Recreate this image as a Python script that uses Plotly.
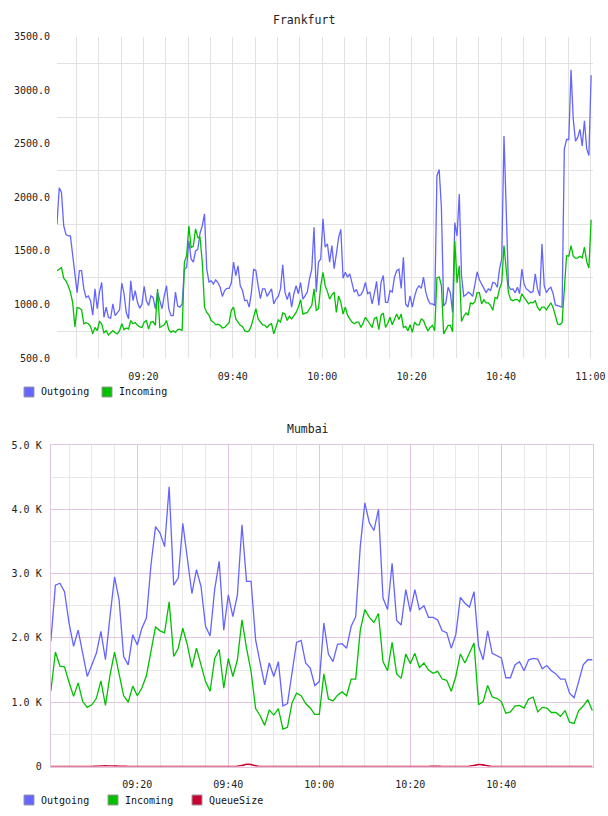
import pandas as pd
import plotly.graph_objects as go

# ---------------- Frankfurt (30 s samples from 09:00:40) ----------------
fra_start = "2024-01-01 09:00:40"
fra_outgoing = [
    1750, 2090, 2045, 1735, 1655, 1640, 1640, 1455, 1330, 1110,
    1315, 1315, 1145, 1065, 1080, 1035, 900, 1145, 960, 1115,
    1205, 880, 975, 880, 870, 1005, 895, 925, 950, 1200,
    1100, 925, 865, 1220, 1035, 1130, 1020, 965, 1000, 1170,
    1035, 990, 1080, 1065, 960, 1115, 1035, 960, 1080, 1175,
    960, 895, 895, 1115, 985, 975, 1005, 1330, 1345, 1595,
    1425, 1395, 1500, 1515, 1665, 1735, 1845, 1330, 1210, 1220,
    1190, 1230, 1205, 1160, 1075, 1130, 1150, 1150, 1200, 1395,
    1270, 1360, 1175, 1130, 1035, 1040, 975, 1115, 1330, 1315,
    1175, 1055, 1145, 1145, 1075, 1115, 1145, 1005, 1050, 1075,
    1145, 1370, 1115, 1045, 1115, 975, 1100, 1175, 1100, 1205,
    1050, 1080, 1115, 1240, 1330, 1720, 1115, 1395, 1425, 1800,
    1535, 1565, 1395, 1550, 1335, 1470, 1625, 1700, 1245, 1300,
    1255, 1285, 1200, 1115, 1140, 1080, 1090, 1130, 1205, 1100,
    1115, 1005, 1100, 1215, 990, 1205, 1270, 1020, 1020, 1130,
    1115, 1255, 1315, 1330, 1150, 1440, 1005, 975, 1080, 975,
    1075, 1145, 1175, 1150, 1255, 1115, 1045, 1005, 1005, 990,
    2200, 2260, 1905, 985, 1015, 1160, 1110, 925, 1765, 1640,
    2030, 1270, 1075, 1090, 1115, 1100, 1075, 1175, 1305, 1230,
    1190, 1140, 1110, 1145, 1130, 1205, 1200, 1160, 1330, 1425,
    2573, 1890, 1175, 1140, 1145, 1110, 1160, 1100, 1330, 1190,
    1145, 1130, 1110, 1120, 1285, 1145, 1080, 1565, 1175, 1110,
    1145, 1160, 1100, 995, 990, 985, 975, 2450, 2540, 2540,
    3190, 2730, 2525, 2560, 2635, 2480, 2715, 2455, 2390, 3140,
]
fra_incoming = [
    1315, 1330, 1345, 1245, 1220, 1175, 1115, 1020, 790, 970,
    965, 950, 820, 830, 820, 795, 725, 785, 755, 840,
    820, 735, 755, 715, 735, 755, 735, 725, 755, 820,
    765, 780, 770, 850, 820, 830, 805, 790, 785, 835,
    850, 770, 835, 840, 805, 1145, 785, 795, 810, 850,
    765, 740, 755, 740, 765, 770, 755, 1395, 1455, 1735,
    1530, 1545, 1705, 1625, 1625, 1395, 975, 925, 900, 850,
    835, 810, 815, 805, 780, 785, 810, 830, 945, 975,
    865, 840, 805, 795, 755, 745, 755, 805, 895, 960,
    865, 835, 810, 805, 785, 810, 820, 725, 785, 855,
    835, 920, 910, 850, 890, 865, 895, 925, 975, 1045,
    910, 920, 925, 960, 990, 1145, 945, 960, 1175, 1300,
    1175, 1120, 1050, 1090, 1115, 925, 1080, 1020, 910, 975,
    900, 865, 835, 820, 835, 835, 785, 830, 880, 850,
    810, 785, 870, 880, 765, 900, 920, 785, 825, 880,
    810, 860, 910, 860, 910, 785, 795, 755, 810, 740,
    835, 810, 810, 865, 850, 795, 755, 785, 805, 755,
    1250, 1255, 1175, 725, 765, 805, 805, 745, 1595, 1200,
    1360, 840, 890, 920, 900, 1015, 1005, 1025, 1110, 1110,
    1005, 1045, 1015, 1015, 990, 945, 1065, 1055, 1145, 1205,
    1550, 1330, 1110, 1045, 1035, 1045, 1045, 1025, 1100, 1065,
    1040, 1005, 1020, 1015, 1035, 975, 945, 975, 975, 950,
    985, 1015, 970, 900, 820, 810, 830, 1145, 1455, 1450,
    1550, 1450, 1430, 1435, 1450, 1435, 1535, 1400, 1340, 1790,
]
fra_times = pd.date_range(fra_start, periods=len(fra_outgoing), freq="30s")
fra_xrange = ["2024-01-01 09:00:40", "2024-01-01 11:00:35"]
fra_xticks = ["09:20", "09:40", "10:00", "10:20", "10:40", "11:00"]
fra_yticks = [500, 1000, 1500, 2000, 2500, 3000, 3500]
fra_ygrid = [750, 1250, 1750, 2250, 2750, 3250]

# ---------------- Mumbai (1 min samples from 09:01) ----------------
mum_start = "2024-01-01 09:01:00"
mum_outgoing = [
    1950, 2820, 2850, 2720, 2230, 1870, 2120, 1760, 1400, 1580,
    1760, 2100, 1660, 2330, 2950, 2590, 1710, 1580, 2050, 1890,
    2150, 2310, 3130, 3730, 3630, 3420, 4350, 2820, 2930, 3780,
    3260, 2690, 3060, 2800, 2180, 2030, 2750, 3190, 2120, 2670,
    2330, 2670, 3760, 2880, 2880, 1970, 1610, 1270, 1610, 1400,
    1630, 940, 980, 1450, 1930, 1960, 1610, 1530, 1260, 1320,
    2230, 1750, 1630, 1900, 1910, 1840, 2180, 2330, 3420, 4100,
    3790, 3670, 4000, 2620, 2440, 3160, 2270, 2200, 2750, 2410,
    2750, 2440, 2500, 2320, 2320, 2280, 2110, 2080, 1840, 2050,
    2630, 2540, 2480, 2720, 1870, 1660, 2110, 1760, 1730, 1690,
    1380, 1380, 1580, 1630, 1490, 1660, 1680, 1670, 1520, 1570,
    1490, 1440, 1360, 1360, 1140, 1070, 1320, 1580, 1660, 1660,
]
mum_incoming = [
    1170, 1780, 1560, 1550, 1310, 1090, 1300, 1010, 920, 960,
    1060, 1330, 950, 1420, 1780, 1450, 1100, 1000, 1250, 1100,
    1220, 1410, 1790, 2170, 2110, 2080, 2560, 1710, 1840, 2150,
    1890, 1540, 1840, 1580, 1320, 1170, 1680, 1820, 1220, 1680,
    1400, 1660, 2280, 1840, 1480, 900, 790, 640, 880, 800,
    900, 580, 610, 990, 1140, 1100, 980, 910, 810, 810,
    1440, 1050, 1020, 1110, 1160, 1100, 1360, 1360, 2120, 2440,
    2320, 2240, 2380, 1630, 1490, 1930, 1440, 1370, 1750, 1600,
    1760, 1540, 1610, 1500, 1450, 1480, 1360, 1340, 1170, 1400,
    1750, 1610, 1760, 1920, 960, 1010, 1260, 1080, 1060, 1010,
    830, 850, 940, 950, 910, 1050, 1080, 850, 920, 910,
    840, 840, 780, 870, 690, 670, 870, 940, 1040, 870,
]
mum_queue = [
    0, 0, 0, 0, 0, 0, 0, 0, 0, 0,
    5, 8, 10, 8, 6, 5, 3, 0, 0, 0,
    0, 0, 0, 0, 0, 0, 0, 0, 0, 0,
    0, 0, 0, 0, 0, 0, 0, 0, 0, 0,
    0, 5, 15, 35, 30, 10, 0, 0, 0, 0,
    0, 0, 0, 0, 0, 0, 0, 0, 0, 0,
    0, 0, 0, 0, 0, 0, 0, 0, 0, 0,
    0, 0, 0, 0, 0, 0, 0, 0, 0, 0,
    0, 0, 0, 0, 5, 3, 0, 0, 0, 0,
    0, 0, 5, 15, 30, 25, 10, 0, 0, 0,
    0, 0, 0, 0, 0, 0, 0, 0, 0, 0,
    0, 0, 0, 0, 0, 0, 0, 0, 0, 0,
]
mum_times = pd.date_range(mum_start, periods=len(mum_outgoing), freq="1min")
mum_xrange = ["2024-01-01 09:00:58", "2024-01-01 11:00:13"]
mum_xticks = ["09:20", "09:40", "10:00", "10:20", "10:40"]
mum_yticks = [0, 1000, 2000, 3000, 4000, 5000]
mum_yticktext = ["0", "1.0 K", "2.0 K", "3.0 K", "4.0 K", "5.0 K"]

series_names = ["Outgoing", "Incoming", "QueueSize"]
colors = {"Outgoing": "#6464ff", "Incoming": "#00c000", "QueueSize": "#cc0033"}

FONT = "DejaVu Sans Mono"
W, H = 608, 816

def day(t):
    return "2024-01-01 " + t + ":00"

fig = go.Figure()

# Frankfurt lines
for name, vals in [("Outgoing", fra_outgoing), ("Incoming", fra_incoming)]:
    fig.add_trace(go.Scatter(x=fra_times, y=vals, mode="lines", name=name,
                             line=dict(color=colors[name], width=1.3),
                             xaxis="x", yaxis="y", showlegend=False,
                             hoverinfo="skip"))
# Mumbai lines
for name, vals in [("Outgoing", mum_outgoing), ("Incoming", mum_incoming)]:
    fig.add_trace(go.Scatter(x=mum_times, y=vals, mode="lines", name=name,
                             line=dict(color=colors[name], width=1.3),
                             xaxis="x2", yaxis="y2", showlegend=False,
                             hoverinfo="skip"))
fig.add_trace(go.Scatter(x=mum_times, y=mum_queue, mode="lines", name="QueueSize",
                         line=dict(color=colors["QueueSize"], width=1.6, shape="spline"),
                         xaxis="x2", yaxis="y2", showlegend=False, hoverinfo="skip"))

# ---- legends (square swatch + label) drawn as layout shapes / annotations ----
legend_rows = [
    (series_names[:2], 392, [24, 102]),   # Frankfurt legend: centre y, box left x
    (series_names, 800, [24, 108, 192]),  # Mumbai legend
]
shapes = []
annotations = []
for names, cy, xs in legend_rows:
    for name, x0 in zip(names, xs):
        shapes.append(dict(type="rect", xref="paper", yref="paper",
                           x0=x0 / W, x1=(x0 + 10) / W,
                           y0=(H - cy - 5) / H, y1=(H - cy + 5) / H,
                           fillcolor=colors[name], line=dict(color="#9a9a9a", width=1)))
        annotations.append(dict(text=name, x=(x0 + 15) / W, y=(H - cy) / H,
                                xref="paper", yref="paper", showarrow=False,
                                xanchor="left", yanchor="middle",
                                font=dict(family=FONT, size=10, color="#111111")))

annotations += [
    dict(text="Frankfurt", x=304 / W, y=(H - 20) / H, xref="paper", yref="paper",
         showarrow=False, xanchor="center", yanchor="middle",
         font=dict(family=FONT, size=11.5, color="#222222")),
    dict(text="Mumbai", x=308 / W, y=(H - 429) / H, xref="paper", yref="paper",
         showarrow=False, xanchor="center", yanchor="middle",
         font=dict(family=FONT, size=11.5, color="#222222")),
]

tickfont = dict(family=FONT, size=10, color="#222222")
grey = "#e2e2e2"
purple = "#e0c6e0"

fig.update_layout(
    width=W, height=H, autosize=False,
    margin=dict(l=0, r=0, t=0, b=0),
    paper_bgcolor="white", plot_bgcolor="white",
    font=dict(family=FONT, size=10, color="#222222"),
    showlegend=False,
    xaxis=dict(domain=[57 / W, 593 / W], anchor="y", type="date",
               range=fra_xrange, tickmode="array",
               tickvals=[day(t) for t in fra_xticks], ticktext=fra_xticks,
               showgrid=True, gridcolor=grey, gridwidth=1,
               minor=dict(dtick=300000, tick0=day("09:00"), showgrid=True,
                          gridcolor=grey, gridwidth=1),
               zeroline=False, showline=False, ticks="", tickfont=tickfont,
               ticklabelstandoff=11, automargin=False, fixedrange=True),
    yaxis=dict(domain=[(H - 358) / H, (H - 36.7) / H], anchor="x",
               range=[500, 3500], tickmode="array", tickvals=fra_yticks,
               ticktext=[f"{v:.1f}" for v in fra_yticks],
               showgrid=False,
               minor=dict(tickmode="array", tickvals=fra_ygrid, showgrid=True,
                          gridcolor=grey, gridwidth=1),
               zeroline=False, showline=False, ticks="", tickfont=tickfont,
               ticklabelstandoff=6, automargin=False, fixedrange=True),
    xaxis2=dict(domain=[50.7 / W, 593.3 / W], anchor="y2", type="date",
                range=mum_xrange, tickmode="array",
                tickvals=[day(t) for t in mum_xticks], ticktext=mum_xticks,
                showgrid=True, gridcolor=purple, gridwidth=1,
                minor=dict(dtick=300000, tick0=day("09:00"), showgrid=True,
                           gridcolor="#e8e8e8", gridwidth=1),
                zeroline=False, showline=True, linecolor=purple, linewidth=1,
                mirror=True, ticks="", tickfont=tickfont,
                ticklabelstandoff=8, automargin=False, fixedrange=True),
    yaxis2=dict(domain=[(H - 766.5) / H, (H - 445) / H], anchor="x2",
                range=[0, 5000], tickmode="array", tickvals=mum_yticks,
                ticktext=mum_yticktext, showgrid=True, gridcolor=purple,
                minor=dict(dtick=500, showgrid=True, gridcolor="#e8e8e8"),
                zeroline=False, showline=True, linecolor=purple, linewidth=1,
                mirror=True, ticks="", tickfont=tickfont,
                ticklabelstandoff=6, automargin=False, fixedrange=True),
    shapes=shapes,
    annotations=annotations,
)

fig.write_html("out.html", config={"displayModeBar": False})
